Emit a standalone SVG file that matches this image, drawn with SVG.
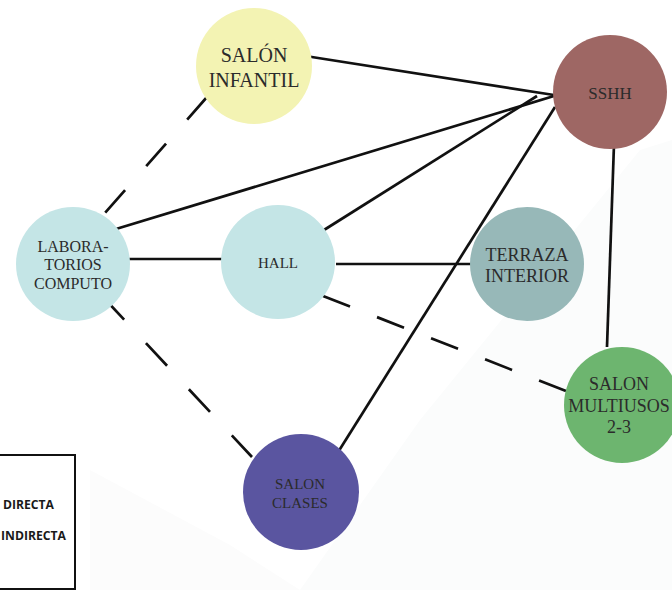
<svg xmlns="http://www.w3.org/2000/svg" width="672" height="590" viewBox="0 0 672 590">
<style>
.node text{font-family:"Liberation Serif","Times New Roman",serif;fill:#2b2b2b;text-anchor:middle}
.solid{stroke:#111;stroke-width:2.7;fill:none;stroke-linecap:butt}
.dash{stroke:#111;stroke-width:2.7;fill:none}
.legend text{font-family:"Open Sans","DejaVu Sans",sans-serif;font-weight:bold;font-size:12px;fill:#1a1a1a}
</style>
<rect width="672" height="590" fill="#ffffff"/>
<g id="background">
<polygon points="90,470 230,545 300,590 90,590" fill="#fcfcfc"/>
<polygon points="640,150 672,140 672,590 300,590 420,420" fill="#fbfcfc"/>
</g>
<g id="connectors">
<line class="solid" x1="299" y1="55" x2="554" y2="95"/>
<line class="solid" x1="116" y1="229" x2="554" y2="96"/>
<line class="solid" x1="129" y1="259" x2="222" y2="259"/>
<line class="solid" x1="324" y1="230" x2="537" y2="96"/>
<line class="solid" x1="336" y1="264" x2="471" y2="264"/>
<line class="solid" x1="555" y1="107" x2="335" y2="457"/>
<line class="solid" x1="614" y1="144" x2="607" y2="347"/>
<line class="dash" x1="207" y1="97" x2="104" y2="214" stroke-dasharray="30 32"/>
<line class="dash" x1="103" y1="297" x2="252" y2="457" stroke-dasharray="31 32"/>
<line class="dash" x1="323" y1="296" x2="566" y2="391" stroke-dasharray="29 29"/>
</g>
<g id="salon-infantil" class="node">
<circle cx="254" cy="66" r="58" fill="#F3F3B3"/>
<text x="254" y="62" font-size="20">SALÓN</text>
<text x="254" y="87" font-size="20">INFANTIL</text>
</g>
<g id="sshh" class="node">
<circle cx="610" cy="92" r="57" fill="#9E6764"/>
<text x="610" y="99" font-size="17">SSHH</text>
</g>
<g id="laboratorios" class="node">
<circle cx="73" cy="264" r="57" fill="#C4E5E6"/>
<text x="73" y="252" font-size="16">LABORA-</text>
<text x="73" y="270" font-size="16">TORIOS</text>
<text x="73" y="289" font-size="16">COMPUTO</text>
</g>
<g id="hall" class="node">
<circle cx="278" cy="262" r="57" fill="#C4E5E6"/>
<text x="278" y="268" font-size="15">HALL</text>
</g>
<g id="terraza" class="node">
<circle cx="527" cy="264" r="57" fill="#97B8B8"/>
<text x="527" y="261" font-size="18">TERRAZA</text>
<text x="527" y="282" font-size="18">INTERIOR</text>
</g>
<g id="salon-multiusos" class="node">
<circle cx="622" cy="405" r="58" fill="#6DB56F"/>
<text x="619" y="390" font-size="18">SALON</text>
<text x="619" y="412" font-size="18">MULTIUSOS</text>
<text x="619" y="433" font-size="18">2-3</text>
</g>
<g id="salon-clases" class="node">
<circle cx="301" cy="492" r="58" fill="#5A55A0"/>
<text x="300" y="489" font-size="15">SALON</text>
<text x="300" y="508" font-size="15">CLASES</text>
</g>
<g id="legend" class="legend">
<rect x="-3" y="455" width="78" height="134" fill="none" stroke="#111" stroke-width="2"/>
<text x="3" y="509" textLength="51" lengthAdjust="spacingAndGlyphs">DIRECTA</text>
<text x="1" y="540" textLength="65" lengthAdjust="spacingAndGlyphs">INDIRECTA</text>
</g>
</svg>
